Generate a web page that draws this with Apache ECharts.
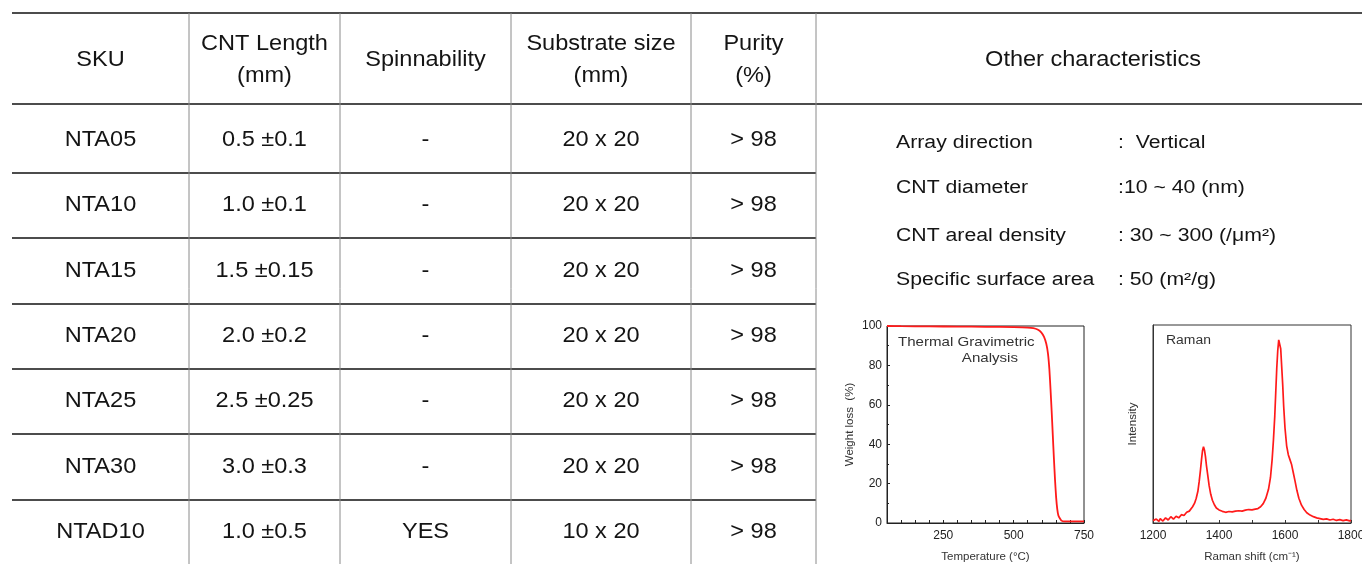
<!DOCTYPE html>
<html><head><meta charset="utf-8">
<script src="https://cdn.jsdelivr.net/npm/echarts@6/dist/echarts.min.js"></script>
<style>html,body{margin:0;padding:0;background:#fff}#c{width:1362px;height:565px}</style>
</head><body><div id="c"></div>
<script>
// ---------- data ----------
const headers = ['SKU', 'CNT Length\n(mm)', 'Spinnability', 'Substrate size\n(mm)', 'Purity\n(%)'];
const skus = ['NTA05', 'NTA10', 'NTA15', 'NTA20', 'NTA25', 'NTA30', 'NTAD10'];
const cntLength = ['0.5 ±0.1', '1.0 ±0.1', '1.5 ±0.15', '2.0 ±0.2', '2.5 ±0.25', '3.0 ±0.3', '1.0 ±0.5'];
const spinnability = ['-', '-', '-', '-', '-', '-', 'YES'];
const substrateSize = ['20 x 20', '20 x 20', '20 x 20', '20 x 20', '20 x 20', '20 x 20', '10 x 20'];
const purity = ['> 98', '> 98', '> 98', '> 98', '> 98', '> 98', '> 98'];
const otherTitle = 'Other characteristics';
const charNames = ['Array direction', 'CNT diameter', 'CNT areal density', 'Specific surface area'];
const charValues = [':  Vertical', ':10 ~ 40 (nm)', ': 30 ~ 300 (/μm²)', ': 50 (m²/g)'];

const tgaTemp   = [50, 100, 200, 300, 400, 500, 550, 570, 585, 598, 608, 616, 622, 627, 631, 635, 639, 643, 647, 651, 655, 659, 664, 670, 680, 700, 750];
const tgaWeight = [100, 99.9, 99.8, 99.7, 99.6, 99.4, 99.2, 98.9, 98.2, 96.8, 94.5, 91.0, 86.0, 78.0, 68.0, 57.0, 45.0, 33.0, 22.0, 13.0, 7.0, 3.8, 2.4, 1.2, 0.8, 0.8, 0.8];
const tgaXLabels = [250, 500, 750];
const tgaYLabels = [0, 20, 40, 60, 80, 100];

const ramanShift = [1200, 1205, 1210, 1214, 1218, 1222, 1226, 1230, 1234, 1238, 1242, 1246, 1250, 1254, 1258, 1262, 1266, 1270, 1274, 1278, 1282, 1286, 1290, 1294, 1298, 1302, 1306, 1310, 1314, 1320, 1326, 1331, 1336, 1340, 1344, 1347, 1350, 1353, 1356, 1359, 1362, 1366, 1370, 1375, 1380, 1386, 1392, 1400, 1410, 1420, 1430, 1440, 1450, 1460, 1470, 1480, 1490, 1500, 1510, 1518, 1526, 1534, 1542, 1550, 1556, 1561, 1565, 1569, 1572, 1575, 1578, 1581, 1584, 1587, 1590, 1593, 1596, 1600, 1605, 1610, 1615, 1620, 1625, 1630, 1636, 1642, 1650, 1658, 1666, 1676, 1686, 1696, 1706, 1716, 1726, 1736, 1746, 1756, 1766, 1776, 1786, 1796, 1800];
const ramanIntensity = [1.2, 0.6, 2.0, 1.0, 0.8, 2.2, 2.4, 1.0, 1.4, 2.6, 2.8, 1.5, 1.6, 3.2, 3.0, 2.0, 2.2, 3.4, 3.6, 2.6, 3.0, 4.2, 4.2, 3.8, 4.6, 5.4, 5.6, 6.0, 6.8, 8.2, 10.0, 12.5, 16.0, 21.0, 27.0, 32.0, 36.5, 38.5, 36.8, 33.5, 29.0, 24.0, 19.0, 14.5, 11.5, 9.2, 7.6, 6.6, 5.9, 5.4, 5.8, 5.6, 6.0, 6.2, 6.0, 6.5, 6.8, 6.6, 7.0, 7.3, 8.2, 9.8, 12.5, 17.0, 23.0, 32.0, 42.0, 54.0, 66.0, 78.0, 87.0, 92.5, 92.0, 88.0, 79.0, 70.0, 59.0, 48.0, 39.0, 34.5, 32.0, 29.5, 25.5, 21.5, 16.5, 12.5, 9.0, 6.8, 5.2, 4.0, 3.2, 2.6, 2.2, 1.8, 2.1, 1.5, 1.9, 1.3, 1.7, 1.2, 1.6, 1.1, 1.3];
const ramanXLabels = [1200, 1400, 1600, 1800];

// ---------- layout ----------
const FF = '"Liberation Sans", Arial, Helvetica, sans-serif';
const SX = 1.07;
const colEdges = [12, 189, 340, 511, 691, 816];
const tableTop = 13, headBottom = 104, bodyTop = 107, bodyHeight = 458, tableBottom = 564, rightEdge = 1362;
const columns = [skus, cntLength, spinnability, substrateSize, purity];

const grids = [], xAxes = [], yAxes = [], series = [];
columns.forEach((col, i) => {
  grids.push({left: colEdges[i], width: colEdges[i + 1] - colEdges[i], top: bodyTop, height: bodyHeight, outerBoundsMode: 'none'});
  xAxes.push({gridIndex: i, type: 'category', data: [headers[i]], show: false});
  yAxes.push({gridIndex: i, type: 'category', data: skus, inverse: true,
    axisLine: {show: false}, axisTick: {show: false}, axisLabel: {show: false},
    splitLine: {show: true, interval: (idx) => idx !== 0, lineStyle: {color: '#111', width: 1.5}}});
  series.push({type: 'custom', xAxisIndex: i, yAxisIndex: i, silent: true,
    data: col.map((t, r) => [0, r]),
    renderItem: (params, api) => {
      const p = api.coord([api.value(0), api.value(1)]);
      return {type: 'text', x: p[0], y: p[1], scaleX: SX,
        style: {text: col[params.dataIndex], font: '22px ' + FF, fill: '#141414',
          align: 'center', verticalAlign: 'middle', textAlign: 'center', textVerticalAlign: 'middle'}};
    }});
});

// TGA chart
const tgaIdx = grids.length;
grids.push({left: 887, top: 326, width: 197, height: 197, show: true, borderColor: '#222', borderWidth: 1, outerBoundsMode: 'none'});
xAxes.push({gridIndex: tgaIdx, type: 'value', min: 50, max: 750, interval: 50,
  name: 'Temperature (°C)', nameLocation: 'middle', nameGap: 28, nameTextStyle: {fontSize: 11.5, color: '#333', fontFamily: FF},
  axisLine: {show: true, lineStyle: {color: '#222'}}, axisTick: {show: true, inside: true, length: 3, lineStyle: {color: '#222'}},
  axisLabel: {fontSize: 12, color: '#222', fontFamily: FF, margin: 7, formatter: v => tgaXLabels.includes(v) ? String(v) : ''},
  splitLine: {show: false}});
yAxes.push({gridIndex: tgaIdx, type: 'value', min: 0, max: 100, interval: 20,
  name: 'Weight loss  (%)', nameLocation: 'middle', nameGap: 31, nameTextStyle: {fontSize: 11.5, color: '#333', fontFamily: FF},
  axisLine: {show: true, lineStyle: {color: '#222'}}, axisTick: {show: true, inside: true, length: 3, lineStyle: {color: '#222'}},
  minorTick: {show: true, splitNumber: 2, length: 2, lineStyle: {color: '#222'}},
  axisLabel: {fontSize: 12, color: '#222', fontFamily: FF, margin: 5, formatter: v => tgaYLabels.includes(v) ? String(v) : ''},
  splitLine: {show: false}});
series.push({type: 'line', xAxisIndex: tgaIdx, yAxisIndex: tgaIdx, showSymbol: false, smooth: 0.2, silent: true,
  data: tgaTemp.map((t, k) => [t, tgaWeight[k]]), lineStyle: {color: '#ff1a1a', width: 1.8}});

// Raman chart
const ramIdx = grids.length;
grids.push({left: 1153, top: 325, width: 198, height: 198, show: true, borderColor: '#333', borderWidth: 1, outerBoundsMode: 'none'});
xAxes.push({gridIndex: ramIdx, type: 'value', min: 1200, max: 1800, interval: 100,
  name: 'Raman shift (cm⁻¹)', nameLocation: 'middle', nameGap: 28, nameTextStyle: {fontSize: 11.5, color: '#333', fontFamily: FF},
  axisLine: {show: true, lineStyle: {color: '#333'}}, axisTick: {show: true, inside: true, length: 3, lineStyle: {color: '#333'}},
  axisLabel: {fontSize: 12, color: '#222', fontFamily: FF, margin: 7, formatter: v => ramanXLabels.includes(v) ? String(v) : ''},
  splitLine: {show: false}});
yAxes.push({gridIndex: ramIdx, type: 'value', min: 0, max: 100,
  name: 'Intensity', nameLocation: 'middle', nameGap: 14, nameTextStyle: {fontSize: 11.5, color: '#333', fontFamily: FF},
  axisLine: {show: true, lineStyle: {color: '#333'}}, axisTick: {show: false}, axisLabel: {show: false}, splitLine: {show: false}});
series.push({type: 'line', xAxisIndex: ramIdx, yAxisIndex: ramIdx, showSymbol: false, silent: true,
  data: ramanShift.map((s, k) => [s, ramanIntensity[k]]), lineStyle: {color: '#ff1a1a', width: 1.7}});

// ---------- graphic: frame lines, header text, characteristics ----------
const graphic = [];
const hLine = (y, x1, x2) => graphic.push({type: 'line', silent: true, shape: {x1, y1: y, x2, y2: y}, style: {stroke: '#111', lineWidth: 1.5}});
hLine(tableTop, colEdges[0], rightEdge);
hLine(headBottom, colEdges[0], rightEdge);
// white strip hiding the body's closing boundary (table continues past the picture edge)
graphic.push({type: 'rect', silent: true, z: 50, shape: {x: 0, y: tableBottom, width: colEdges[5] + 2, height: 4}, style: {fill: '#fff'}});
colEdges.slice(1).forEach(x => graphic.push({type: 'line', silent: true, z: 60, shape: {x1: x, y1: tableTop, x2: x, y2: tableBottom}, style: {stroke: '#8a8a8a', lineWidth: 1}}));
const txt = (text, x, y, size, align, sx) => graphic.push({type: 'text', silent: true, x, y, scaleX: sx,
  style: {text, font: size + 'px ' + FF, fill: '#141414', align, verticalAlign: 'middle', textAlign: align, textVerticalAlign: 'middle', lineHeight: 32}});
headers.forEach((h, i) => txt(h, (colEdges[i] + colEdges[i + 1]) / 2, 59.5, 22, 'center', SX));
txt(otherTitle, 1093, 59.5, 22, 'center', SX);
const charY = [143, 188, 236, 280];
charNames.forEach((n, i) => { txt(n, 896, charY[i], 18, 'left', 1.18); txt(charValues[i], 1118, charY[i], 18, 'left', 1.18); });
// chart inner titles
const small = (text, x, y, size, align) => graphic.push({type: 'text', silent: true, x, y, scaleX: 1.16,
  style: {text, font: size + 'px ' + FF, fill: '#333', align, verticalAlign: 'middle', textAlign: align, textVerticalAlign: 'middle'}});
small('Thermal Gravimetric', 898, 342, 13, 'left');
small('Analysis', 1018, 358, 13, 'right');
small('Raman', 1166, 341, 12, 'left');

const chart = echarts.init(document.getElementById('c'), null, {renderer: 'canvas'});
chart.setOption({animation: false, backgroundColor: '#fff', grid: grids, xAxis: xAxes, yAxis: yAxes, series, graphic});
</script></body></html>
